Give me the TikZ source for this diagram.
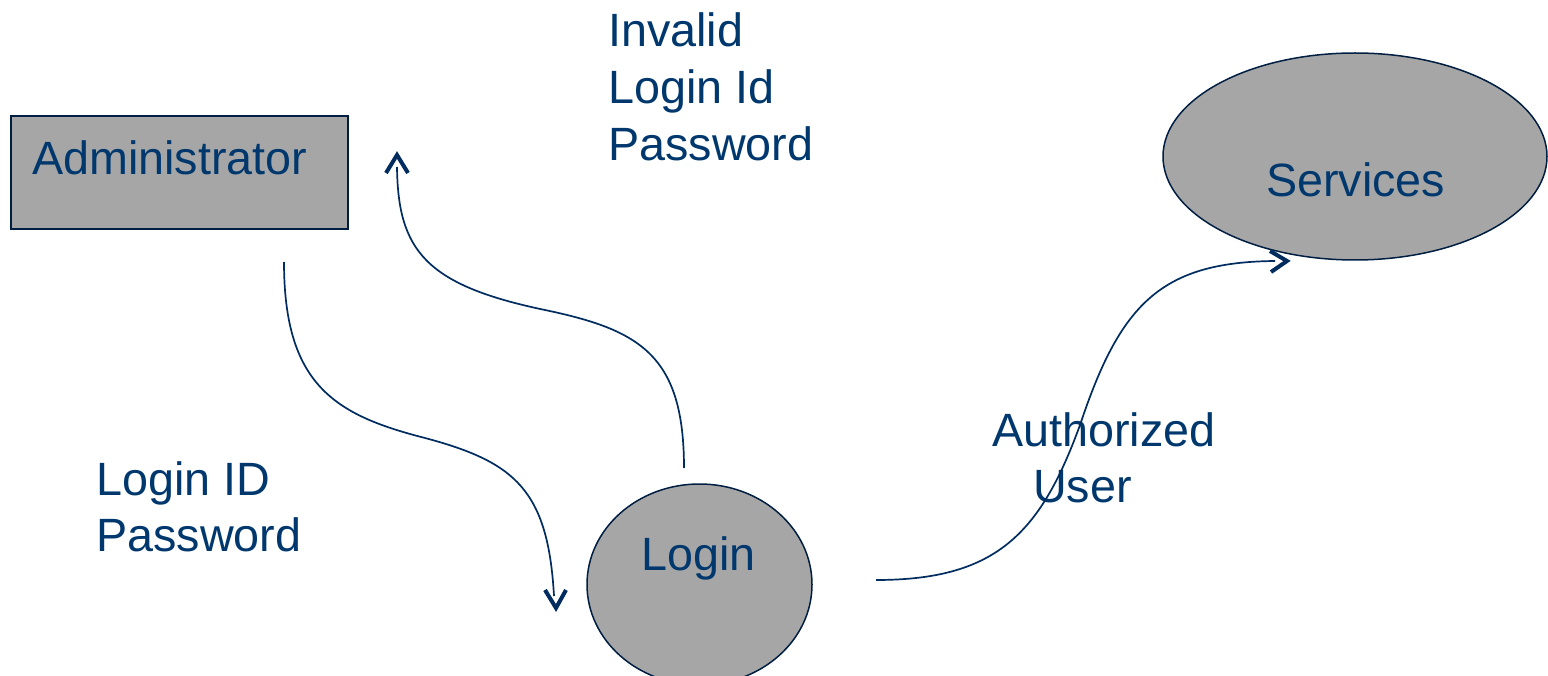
\documentclass[tikz,border=0pt]{standalone}
\usepackage{fontspec}
\setmainfont{Liberation Sans}
\usetikzlibrary{calc,shapes.geometric}
\definecolor{txt}{RGB}{0,56,110}
\definecolor{edge}{RGB}{0,30,66}
\definecolor{wire}{RGB}{0,44,96}
\definecolor{shade}{RGB}{166,166,166}
\begin{document}
\begin{tikzpicture}[x=1pt,y=-1pt,
  lbl/.style={font=\fontsize{46.7}{57}\selectfont, text=txt, inner sep=0pt, anchor=base west},
  box/.style={draw=edge, line width=1.5pt, fill=shade, inner sep=0pt},
  flow/.style={draw=wire, line width=1.7pt},
  chevron/.style={draw=wire, line width=4pt, line join=miter, line cap=butt}]
\useasboundingbox (0,0) rectangle (1548,676);
% shapes
\node[box, minimum width=337pt, minimum height=113pt] (admin) at (179.5,172.5) {};
\node[lbl] (admintxt) at (32,175) {Administrator};
\begin{scope}
\clip (0,0) rectangle (1548,676);
\node[box, ellipse, minimum width=225pt, minimum height=201pt] (login) at (699.5,584.5) {};
\end{scope}
\node[lbl] (logintxt) at (641,570) {Login};
\node[box, ellipse, minimum width=384pt, minimum height=207pt] (serv) at (1355,156.5) {};
\node[lbl] (servtxt) at (1266,197) {Services};
% labels
\node[lbl] (inv1) at (608,47) {Invalid};
\node[lbl] (inv2) at (608,104) {Login Id};
\node[lbl] (inv3) at (608,161) {Password};
\node[lbl] (lid1) at (96,495) {Login ID};
\node[lbl] (lid2) at (96,551) {Password};
\node[lbl] (au1) at (992,446) {Authorized};
\node[lbl] (au2) at (1033,502) {User};
% connector ends
\coordinate (a1) at (284,262);
\coordinate (a2) at (556,608);
\coordinate (b1) at (684,468);
\coordinate (b2) at (397,155);
\coordinate (c1) at (876,580);
\coordinate (c2) at (1287,261);
\draw[flow] (a1) .. controls (284,385) and (335,415) .. (425,438)
  .. controls (515,462) and (548,490) .. ($(a2)+(-2,-12)$);
\draw[chevron] ($(a2)+(-11,-18)$) -- (a2) -- ($(a2)+(10,-18)$);
\draw[flow] (b1) .. controls (684,355) and (640,330) .. (545,310)
  .. controls (425,285) and (398,250) .. ($(b2)+(0,12)$);
\draw[chevron] ($(b2)+(-11,18)$) -- (b2) -- ($(b2)+(11,18)$);
\draw[flow] (c1) .. controls (995,580) and (1040,535) .. (1080,425)
  .. controls (1120,305) and (1160,262) .. ($(c2)+(-12,0)$);
\draw[chevron] ($(c2)+(-17,-10)$) -- (c2) -- ($(c2)+(-16,11)$);
\end{tikzpicture}
\end{document}
